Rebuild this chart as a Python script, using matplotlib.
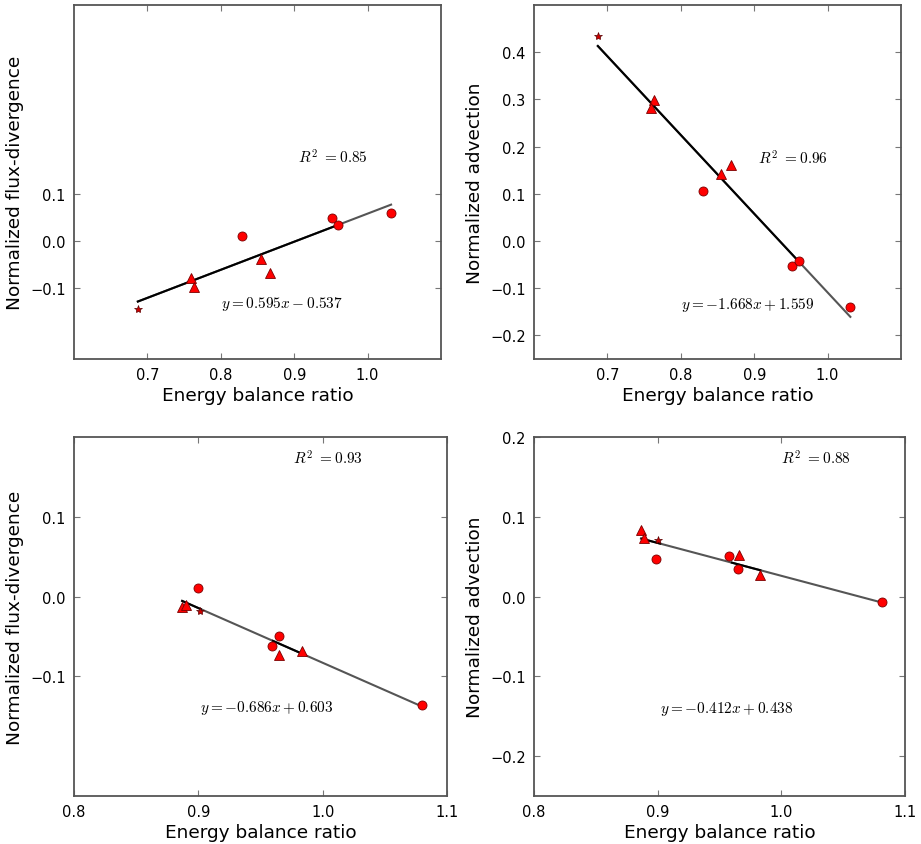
import numpy as np
import matplotlib
matplotlib.use("Agg")
import matplotlib.pyplot as plt

plt.rcParams['mathtext.fontset'] = 'cm'

# top row: energy balance ratio vs normalized terms
top_circ_x = [0.829, 0.951, 0.960, 1.032]
top_tri_x = [0.760, 0.763, 0.855, 0.867]
top_star_x = [0.687]

flux1_circ = [0.011, 0.049, 0.033, 0.060]
flux1_tri = [-0.078, -0.097, -0.038, -0.067]
flux1_star = [-0.145]

adv1_circ_x = [0.830, 0.952, 0.961, 1.031]
adv1_circ = [0.106, -0.053, -0.042, -0.140]
adv1_tri_x = [0.764, 0.759, 0.868, 0.855]
adv1_tri = [0.298, 0.282, 0.160, 0.142]
adv1_star = [0.435]

# bottom row
flux2_circ_x = [0.900, 0.965, 0.959, 1.080]
flux2_circ = [0.011, -0.050, -0.062, -0.136]
flux2_tri_x = [0.887, 0.890, 0.965, 0.983]
flux2_tri = [-0.013, -0.011, -0.073, -0.068]
flux2_star_x = [0.9016]
flux2_star = [-0.018]

adv2_circ_x = [0.899, 0.958, 0.965, 1.081]
adv2_circ = [0.047, 0.051, 0.035, -0.007]
adv2_tri_x = [0.8865, 0.889, 0.966, 0.983]
adv2_tri = [0.083, 0.073, 0.052, 0.027]
adv2_star_x = [0.9005]
adv2_star = [0.071]

# fits: slope, intercept, r2
fits = [(0.595, -0.537, 0.85), (-1.668, 1.559, 0.96),
        (-0.686, 0.603, 0.93), (-0.412, 0.438, 0.88)]

panels = [
    dict(cx=top_circ_x, cy=flux1_circ, tx=top_tri_x, ty=flux1_tri, sx=top_star_x, sy=flux1_star,
         ylabel='Normalized flux-divergence', xlim=(0.6, 1.1), ylim=(-0.25, 0.5),
         xticks=[0.7, 0.8, 0.9, 1.0], yticks=[-0.1, 0.0, 0.1],
         r2pos=(0.905, 0.166), eqpos=(0.80, -0.14), black=[(0.687, 0.96)]),
    dict(cx=adv1_circ_x, cy=adv1_circ, tx=adv1_tri_x, ty=adv1_tri, sx=top_star_x, sy=adv1_star,
         ylabel='Normalized advection', xlim=(0.6, 1.1), ylim=(-0.25, 0.5),
         xticks=[0.7, 0.8, 0.9, 1.0], yticks=[-0.2, -0.1, 0.0, 0.1, 0.2, 0.3, 0.4],
         r2pos=(0.905, 0.164), eqpos=(0.80, -0.143), black=[(0.687, 0.96)]),
    dict(cx=flux2_circ_x, cy=flux2_circ, tx=flux2_tri_x, ty=flux2_tri, sx=flux2_star_x, sy=flux2_star,
         ylabel='Normalized flux-divergence', xlim=(0.8, 1.1), ylim=(-0.25, 0.2),
         xticks=[0.8, 0.9, 1.0, 1.1], yticks=[-0.1, 0.0, 0.1],
         r2pos=(0.976, 0.166), eqpos=(0.901, -0.143), black=[(0.887, 0.902), (0.960, 0.983)]),
    dict(cx=adv2_circ_x, cy=adv2_circ, tx=adv2_tri_x, ty=adv2_tri, sx=adv2_star_x, sy=adv2_star,
         ylabel='Normalized advection', xlim=(0.8, 1.1), ylim=(-0.25, 0.2),
         xticks=[0.8, 0.9, 1.0, 1.1], yticks=[-0.2, -0.1, 0.0, 0.1, 0.2],
         r2pos=(1.0, 0.166), eqpos=(0.902, -0.145), black=[(0.887, 0.902), (0.960, 0.983)]),
]

W, H = 921, 845
boxes = [(74, 441, 6, 360), (534, 901, 6, 360), (74, 447, 438, 797), (534, 905, 438, 797)]

fmt = matplotlib.ticker.FuncFormatter(lambda v, pos: ('%.1f' % v).replace('-', '\u2212'))

fig = plt.figure(figsize=(W / 100, H / 100), dpi=100)

for p, (a, b, r2), (l, r, t, bt) in zip(panels, fits, boxes):
    ax = fig.add_axes([l / W, (H - bt) / H, (r - l) / W, (bt - t) / H])
    allx = np.array(p['cx'] + p['tx'] + p['sx'])
    xs = np.array([allx.min(), allx.max()])
    ax.plot(xs, a * xs + b, color='#555555', lw=1.5, zorder=2)
    for x0, x1 in p['black']:
        xb = np.array([x0, x1])
        ax.plot(xb, a * xb + b, color='black', lw=1.5, zorder=2)
    ax.plot(p['cx'], p['cy'], 'o', color='red', mec='#7a0000', mew=0.6, ms=6.5, zorder=3)
    ax.plot(p['tx'], p['ty'], '^', color='red', mec='#7a0000', mew=0.6, ms=6.5, zorder=3)
    ax.plot(p['sx'], p['sy'], '*', color='#cc0000', mec='#5a0000', mew=0.5, ms=6, zorder=3)

    ax.text(*p['r2pos'], r'$R^2\ =%.2f$' % r2, fontsize=11)
    sign = '+' if b >= 0 else '-'
    ax.text(*p['eqpos'], r'$y=%.3fx%s%.3f$' % (a, sign, abs(b)), fontsize=11)

    ax.set_xlim(*p['xlim'])
    ax.set_ylim(*p['ylim'])
    ax.set_xticks(p['xticks'])
    ax.set_yticks(p['yticks'])
    ax.xaxis.set_major_formatter(fmt)
    ax.yaxis.set_major_formatter(fmt)
    ax.tick_params(direction='in', top=True, right=True, labelsize=10.5, color='#777777',
                   length=4, pad=6)
    for s in ax.spines.values():
        s.set_color('#555555')
        s.set_linewidth(1.3)
    ax.set_xlabel('Energy balance ratio', fontsize=13.3, labelpad=3)
    ax.set_ylabel(p['ylabel'], fontsize=13.3)

fig.savefig('out.png', dpi=100)
